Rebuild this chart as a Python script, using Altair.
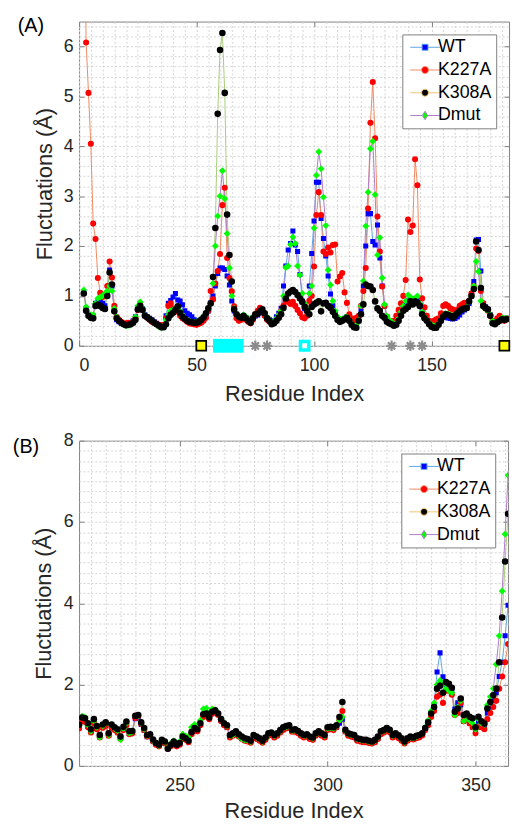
import altair as alt
import pandas as pd

SERIES = ["WT", "K227A", "K308A", "Dmut"]
LINE_PLOT = ["#5ea6e6", "#ef8a62", "#a8cc78", "#b07cc8"]
LINE_LEGEND = ["#5ea6e6", "#ef8a62", "#f2c46e", "#b07cc8"]
MARKER = ["#0000ff", "#ff0000", "#000000", "#00ff00"]

# ---------------- panel (A): residues 2..182 ----------------
RES_A = list(range(2, 183))
WT_A = [1.08, 0.75, 0.62, 0.58, 0.60, 0.85, 0.90, 0.88, 0.85, 0.80,
        1.05, 1.52, 1.20, 0.70, 0.52, 0.48, 0.45, 0.44, 0.43, 0.44,
        0.45, 0.50, 0.58, 0.76, 0.85, 0.74, 0.62, 0.58, 0.55, 0.52,
        0.48, 0.45, 0.42, 0.40, 0.42, 0.60, 0.85, 0.91, 0.98, 1.05,
        0.92, 0.90, 0.82, 0.70, 0.65, 0.62, 0.58, 0.52, 0.50, 0.50,
        0.52, 0.55, 0.60, 0.70, 0.85, 1.00, 1.20, 1.45, 1.56, 1.56,
        1.53, 1.40, 1.22, 0.90, 0.70, 0.60, 0.56, 0.55, 0.58, 0.55,
        0.52, 0.50, 0.55, 0.60, 0.62, 0.66, 0.70, 0.62, 0.55, 0.52,
        0.48, 0.50, 0.58, 0.65, 0.75, 1.20, 1.60, 1.92, 2.05, 2.30,
        2.02, 1.89, 1.43, 0.90, 0.75, 0.70, 1.20, 1.85, 2.50, 3.28,
        3.28, 2.55, 2.15, 1.80, 1.40, 1.04, 0.80, 0.65, 0.55, 0.50,
        0.52, 0.55, 0.58, 0.52, 0.45, 0.40, 0.42, 0.50, 0.70, 1.20,
        2.00, 2.65, 2.65, 2.09, 2.02, 2.42, 1.76, 1.20, 0.80, 0.58,
        0.50, 0.46, 0.43, 0.45, 0.55, 0.65, 0.75, 0.82, 0.90, 0.95,
        0.92, 0.95, 0.90, 0.82, 0.68, 0.58, 0.52, 0.46, 0.42, 0.40,
        0.40, 0.45, 0.52, 0.58, 0.58, 0.56, 0.55, 0.54, 0.55, 0.58,
        0.62, 0.68, 0.72, 0.75, 0.85, 1.00, 1.29, 2.12, 2.13, 1.50,
        0.85, 0.78, 0.72, 0.62, 0.50, 0.46, 0.48, 0.52, 0.55, 0.54,
        0.55]
K227A_A = [10.0, 6.08, 5.07, 4.05, 2.45, 2.14, 1.36, 1.06, 0.98, 1.00,
           1.20, 1.69, 1.37, 0.80, 0.58, 0.52, 0.48, 0.45, 0.45, 0.46,
           0.46, 0.48, 0.55, 0.72, 0.82, 0.72, 0.60, 0.56, 0.52, 0.48,
           0.46, 0.44, 0.42, 0.40, 0.42, 0.55, 0.80, 0.85, 0.75, 0.70,
           0.68, 0.60, 0.55, 0.52, 0.48, 0.45, 0.44, 0.43, 0.42, 0.44,
           0.46, 0.50, 0.56, 0.70, 1.10, 0.93, 1.25, 1.50, 1.84, 2.82,
           3.17, 1.76, 1.36, 1.09, 0.79, 0.55, 0.50, 0.52, 0.56, 0.52,
           0.48, 0.45, 0.52, 0.62, 0.70, 0.76, 0.69, 0.60, 0.52, 0.48,
           0.44, 0.46, 0.52, 0.60, 0.70, 0.80, 0.90, 0.88, 0.84, 0.88,
           0.80, 0.72, 0.65, 0.57, 0.55, 0.60, 0.90, 1.00, 1.59, 2.62,
           3.08, 2.62, 1.89, 1.84, 1.97, 1.87, 2.02, 2.03, 1.29, 1.39,
           1.46, 1.07, 0.86, 0.63, 0.55, 0.50, 0.56, 0.60, 0.80, 1.10,
           1.56, 2.75, 4.47, 5.29, 4.16, 2.59, 1.89, 1.19, 0.80, 0.58,
           0.50, 0.48, 0.50, 0.60, 0.72, 0.85, 1.00, 1.32, 2.53, 2.28,
           2.41, 3.74, 3.22, 1.33, 0.95, 0.77, 0.60, 0.50, 0.45, 0.50,
           0.53, 0.55, 0.65, 0.80, 0.83, 0.80, 0.75, 0.73, 0.70, 0.72,
           0.80, 0.83, 0.86, 0.80, 0.90, 1.05, 1.20, 1.95, 1.90, 1.10,
           0.85, 0.75, 0.70, 0.60, 0.50, 0.48, 0.55, 0.60, 0.55, 0.50,
           0.55]
K308A_A = [1.05, 0.70, 0.60, 0.56, 0.55, 0.80, 0.82, 0.80, 0.76, 0.74,
           1.00, 1.47, 1.23, 0.69, 0.55, 0.50, 0.46, 0.43, 0.41, 0.42,
           0.43, 0.46, 0.52, 0.73, 0.80, 0.72, 0.60, 0.57, 0.53, 0.50,
           0.46, 0.43, 0.40, 0.37, 0.37, 0.43, 0.55, 0.62, 0.66, 0.72,
           0.79, 0.66, 0.58, 0.54, 0.50, 0.48, 0.47, 0.46, 0.46, 0.48,
           0.52, 0.57, 0.65, 0.75, 0.85, 1.38, 2.36, 4.65, 5.93, 6.27,
           5.07, 2.63, 1.82, 1.29, 0.73, 0.63, 0.58, 0.56, 0.60, 0.55,
           0.50, 0.46, 0.55, 0.63, 0.64, 0.69, 0.73, 0.65, 0.55, 0.50,
           0.43, 0.45, 0.50, 0.56, 0.63, 0.76, 0.95, 1.05, 1.09, 1.12,
           1.08, 1.02, 0.95, 0.88, 0.78, 0.70, 0.63, 0.78, 0.83, 0.86,
           0.89, 0.69, 0.85, 0.86, 0.80, 0.76, 0.68, 0.60, 0.52, 0.48,
           0.50, 0.53, 0.56, 0.50, 0.42, 0.37, 0.36, 0.50, 0.63, 0.83,
           1.23, 1.20, 1.19, 1.12, 0.89, 0.75, 0.70, 0.60, 0.56, 0.48,
           0.45, 0.43, 0.40, 0.42, 0.50, 0.60, 0.70, 0.74, 0.78, 0.89,
           0.83, 0.89, 0.86, 0.80, 0.63, 0.55, 0.50, 0.43, 0.38, 0.36,
           0.36, 0.42, 0.50, 0.58, 0.63, 0.62, 0.60, 0.56, 0.60, 0.65,
           0.70, 0.73, 0.75, 0.76, 0.89, 1.00, 1.14, 2.09, 1.92, 1.16,
           0.80, 0.76, 0.73, 0.60, 0.45, 0.43, 0.47, 0.50, 0.53, 0.52,
           0.53]
DMUT_A = [1.12, 0.78, 0.65, 0.60, 0.62, 0.85, 0.95, 0.98, 1.00, 1.05,
          1.10, 1.20, 1.10, 0.75, 0.58, 0.50, 0.45, 0.42, 0.40, 0.41,
          0.42, 0.48, 0.58, 0.80, 0.88, 0.76, 0.62, 0.58, 0.54, 0.50,
          0.45, 0.42, 0.38, 0.36, 0.40, 0.52, 0.62, 0.70, 0.72, 0.75,
          0.78, 0.70, 0.62, 0.56, 0.52, 0.50, 0.48, 0.47, 0.48, 0.50,
          0.53, 0.58, 0.65, 0.75, 0.85, 1.25, 2.00, 2.60, 3.00, 3.51,
          2.95, 2.25, 1.56, 1.00, 0.75, 0.62, 0.60, 0.58, 0.62, 0.58,
          0.55, 0.52, 0.58, 0.62, 0.65, 0.68, 0.72, 0.64, 0.58, 0.52,
          0.48, 0.50, 0.55, 0.62, 0.70, 1.00, 1.57, 1.60, 2.03, 2.18,
          2.05, 1.60, 1.42, 1.05, 0.85, 0.75, 1.05, 1.20, 2.36, 3.42,
          3.89, 3.55, 2.98, 2.41, 1.52, 1.22, 0.90, 0.70, 0.58, 0.54,
          0.54, 0.56, 0.58, 0.52, 0.44, 0.40, 0.42, 0.52, 0.80, 1.30,
          2.40, 3.08, 3.95, 4.10, 3.03, 1.82, 2.17, 1.36, 0.83, 0.60,
          0.52, 0.48, 0.44, 0.46, 0.55, 0.68, 0.80, 0.90, 1.02, 0.98,
          0.90, 0.95, 1.00, 0.85, 0.68, 0.58, 0.52, 0.46, 0.42, 0.40,
          0.40, 0.45, 0.52, 0.60, 0.65, 0.64, 0.62, 0.60, 0.62, 0.66,
          0.70, 0.72, 0.75, 0.78, 0.88, 1.00, 1.20, 1.69, 1.49, 0.90,
          0.78, 0.74, 0.70, 0.62, 0.50, 0.46, 0.48, 0.52, 0.56, 0.54,
          0.55]

# markers drawn along the residue axis of panel (A)
YELLOW_BOX = [52, 181]
CYAN_BAR_START = [57]
CYAN_BAR_END = [70]
CYAN_BOX = [96]
GRAY_STAR = [75, 80, 133, 141, 146]

# ---------------- panel (B): residues 216..361 ----------------
RES_B = list(range(216, 362))
WT_B = [0.95, 1.12, 1.10, 0.98, 0.85, 1.08, 0.92, 0.72, 0.96, 1.00,
        0.75, 0.96, 0.90, 0.84, 0.68, 0.90, 1.02, 0.80, 0.82, 1.16,
        1.20, 1.02, 0.88, 0.72, 0.74, 0.62, 0.54, 0.50, 0.60, 0.56,
        0.44, 0.50, 0.56, 0.50, 0.54, 0.68, 0.66, 0.62, 0.80, 0.90,
        0.90, 1.05, 1.25, 1.30, 1.22, 1.32, 1.35, 1.27, 1.12, 1.02,
        0.95, 0.72, 0.76, 0.80, 0.74, 0.68, 0.64, 0.62, 0.60, 0.72,
        0.68, 0.64, 0.60, 0.66, 0.76, 0.78, 0.72, 0.76, 0.84, 0.90,
        0.93, 0.95, 0.85, 0.86, 0.82, 0.76, 0.72, 0.74, 0.68, 0.66,
        0.76, 0.80, 0.76, 0.72, 0.90, 0.92, 0.90, 0.95, 1.05, 1.15,
        0.85, 0.76, 0.74, 0.72, 0.65, 0.62, 0.60, 0.60, 0.58, 0.57,
        0.60, 0.68, 0.80, 0.84, 0.88, 0.85, 0.72, 0.76, 0.70, 0.64,
        0.58, 0.64, 0.68, 0.67, 0.70, 0.73, 0.78, 0.92, 1.10, 1.30,
        1.50, 2.31, 2.78, 2.19, 2.00, 1.95, 1.85, 1.40, 1.55, 1.50,
        1.10, 1.15, 1.05, 0.95, 0.90, 1.10, 1.00, 1.00, 1.30, 1.45,
        1.60, 1.80, 2.20, 2.55, 3.20, 3.95]
K227A_B = [0.92, 1.10, 1.08, 0.95, 0.82, 1.05, 0.90, 0.70, 0.94, 0.98,
           0.74, 0.94, 0.88, 0.82, 0.66, 0.88, 1.00, 0.78, 0.80, 1.18,
           1.22, 1.03, 0.88, 0.72, 0.74, 0.60, 0.52, 0.48, 0.58, 0.55,
           0.42, 0.48, 0.55, 0.48, 0.52, 0.66, 0.64, 0.58, 0.78, 0.86,
           0.85, 1.00, 1.20, 1.24, 1.15, 1.28, 1.32, 1.25, 1.10, 1.00,
           0.95, 0.70, 0.74, 0.78, 0.72, 0.66, 0.62, 0.60, 0.57, 0.70,
           0.66, 0.62, 0.57, 0.64, 0.74, 0.76, 0.70, 0.74, 0.82, 0.88,
           0.92, 0.94, 0.84, 0.84, 0.80, 0.74, 0.70, 0.72, 0.66, 0.64,
           0.74, 0.79, 0.74, 0.70, 0.88, 0.90, 0.88, 0.95, 1.12, 1.35,
           0.84, 0.74, 0.72, 0.70, 0.62, 0.60, 0.58, 0.58, 0.56, 0.55,
           0.58, 0.66, 0.78, 0.82, 0.86, 0.83, 0.70, 0.74, 0.68, 0.62,
           0.55, 0.62, 0.66, 0.65, 0.68, 0.70, 0.75, 0.88, 1.00, 1.20,
           1.35, 1.70, 1.75, 1.55, 1.85, 1.85, 1.75, 1.25, 1.30, 1.55,
           1.10, 1.15, 1.05, 0.95, 0.80, 0.95, 0.95, 0.90, 1.15, 1.30,
           1.45, 1.60, 1.90, 2.20, 2.55, 3.00]
K308A_B = [1.01, 1.19, 1.17, 1.05, 0.90, 1.15, 0.98, 0.76, 1.02, 1.07,
           0.80, 1.02, 0.95, 0.90, 0.72, 0.96, 1.09, 0.85, 0.86, 1.23,
           1.25, 1.07, 0.93, 0.76, 0.78, 0.65, 0.56, 0.52, 0.64, 0.60,
           0.42, 0.52, 0.60, 0.52, 0.56, 0.72, 0.68, 0.62, 0.83, 0.93,
           0.90, 1.05, 1.27, 1.29, 1.19, 1.33, 1.37, 1.29, 1.15, 1.05,
           1.00, 0.76, 0.80, 0.85, 0.78, 0.72, 0.68, 0.66, 0.62, 0.76,
           0.72, 0.68, 0.62, 0.70, 0.80, 0.82, 0.76, 0.80, 0.88, 0.95,
           0.98, 1.00, 0.89, 0.90, 0.86, 0.80, 0.76, 0.78, 0.72, 0.70,
           0.80, 0.85, 0.80, 0.76, 0.95, 0.96, 0.95, 1.00, 1.20, 1.57,
           0.89, 0.80, 0.78, 0.76, 0.68, 0.66, 0.64, 0.64, 0.62, 0.60,
           0.64, 0.72, 0.85, 0.88, 0.93, 0.89, 0.76, 0.80, 0.75, 0.68,
           0.60, 0.68, 0.72, 0.70, 0.74, 0.76, 0.80, 0.93, 1.07, 1.29,
           1.45, 1.90, 1.97, 1.80, 2.06, 2.02, 1.92, 1.33, 1.41, 1.66,
           1.25, 1.29, 1.21, 1.17, 0.95, 1.21, 1.10, 1.04, 1.41, 1.57,
           1.74, 1.90, 2.55, 3.65, 5.03, 6.20]
DMUT_B = [1.00, 1.22, 1.20, 1.00, 0.85, 1.10, 0.95, 0.70, 0.98, 1.05,
          0.76, 1.00, 0.92, 0.86, 0.65, 0.92, 1.05, 0.80, 0.84, 1.22,
          1.24, 1.05, 0.90, 0.74, 0.76, 0.62, 0.54, 0.50, 0.62, 0.58,
          0.45, 0.55, 0.62, 0.55, 0.60, 0.78, 0.74, 0.70, 0.95, 1.02,
          1.00, 1.12, 1.40, 1.42, 1.30, 1.40, 1.38, 1.30, 1.15, 1.05,
          0.98, 0.74, 0.76, 0.82, 0.74, 0.66, 0.64, 0.62, 0.60, 0.74,
          0.70, 0.66, 0.60, 0.68, 0.78, 0.80, 0.74, 0.78, 0.86, 0.93,
          0.96, 0.98, 0.87, 0.88, 0.84, 0.78, 0.74, 0.76, 0.70, 0.68,
          0.78, 0.83, 0.78, 0.74, 0.92, 0.94, 0.92, 0.98, 1.12, 1.20,
          0.86, 0.78, 0.76, 0.74, 0.66, 0.64, 0.62, 0.62, 0.60, 0.58,
          0.62, 0.70, 0.83, 0.86, 0.91, 0.87, 0.74, 0.78, 0.73, 0.66,
          0.58, 0.66, 0.70, 0.68, 0.72, 0.75, 0.80, 0.95, 1.12, 1.35,
          1.55, 2.00, 2.10, 2.00, 1.90, 1.85, 1.80, 1.25, 1.45, 1.60,
          1.10, 1.20, 1.12, 1.05, 0.90, 1.15, 1.05, 1.02, 1.50, 1.70,
          1.90, 2.50, 3.20, 4.30, 5.70, 7.15]

FONT = "Liberation Sans"
TXT = "#262626"
AX = "#808080"
GRID = "#d4d4d4"

STAR = "M-1,0L1,0M0,-1L0,1M-0.7,-0.7L0.7,0.7M-0.7,0.7L0.7,-0.7"
LEG_SHAPES = [
    "M-1,0L1.4,0M2.6,0L5,0M1.4,-0.6L2.6,-0.6L2.6,0.6L1.4,0.6Z",
    "M-1,0L1.3,0M2.7,0L5,0M1.3,0A0.7,0.7,0,1,0,2.7,0A0.7,0.7,0,1,0,1.3,0Z",
    "M-1,0L1.3,0M2.7,0L5,0M1.3,0A0.7,0.7,0,1,0,2.7,0A0.7,0.7,0,1,0,1.3,0Z",
    "M-1,0L1.45,0M2.55,0L5,0M2,-0.85L2.55,0L2,0.85L1.45,0Z",
]


def long_frame(res, cols):
    rows = []
    for name, vals in zip(SERIES, cols):
        for r, v in zip(res, vals):
            rows.append({"residue": r, "value": v, "series": name})
    return pd.DataFrame(rows)


def panel(df, W, H, xdom, ydom, xmaj, ymaj, xmin, ymin, tag, tag_dx, tag_dy,
          xtitle_pad, ytitle_pad, left_extent, annotate=False):
    xs = alt.Scale(domain=xdom, nice=False, zero=False)
    ys = alt.Scale(domain=ydom, nice=False, zero=False)
    off = dict(labels=False, domain=False, title=None)
    zero_ext = dict(minExtent=0, maxExtent=0)
    grid_x = alt.Axis(orient="bottom", values=xmin, grid=True, gridColor=GRID,
                      gridDash=[2, 2], gridWidth=1, ticks=False, tickSize=0, **off, **zero_ext)
    # the minor-grid y axis also reserves the left margin of the panel
    grid_y = alt.Axis(orient="left", values=ymin, grid=True, gridColor=GRID,
                      gridDash=[2, 2], gridWidth=1, ticks=False, tickSize=0, **off,
                      minExtent=left_extent, maxExtent=left_extent)
    main_x = alt.Axis(orient="bottom", values=xmaj, grid=False, ticks=False, tickSize=0,
                      domain=False, labelFont=FONT, labelFontSize=18, labelColor=TXT,
                      labelPadding=11, title="Residue Index", titleFont=FONT,
                      titleFontSize=22, titleFontWeight="normal", titleColor=TXT,
                      titlePadding=xtitle_pad)
    main_y = alt.Axis(orient="left", values=ymaj, grid=False, ticks=False, tickSize=0,
                      domain=False, labelFont=FONT, labelFontSize=18, labelColor=TXT,
                      labelPadding=6, title="Fluctuations (Å)", titleFont=FONT,
                      titleFontSize=22, titleFontWeight="normal", titleColor=TXT,
                      titlePadding=ytitle_pad)
    tick = dict(grid=False, ticks=True, tickSize=5, tickColor=AX, tickWidth=1, **off, **zero_ext)
    in_bottom = alt.Axis(orient="top", offset=-H, values=xmaj, **tick)
    in_top = alt.Axis(orient="bottom", offset=-H, values=xmaj, **tick)
    in_left = alt.Axis(orient="right", offset=-W, values=ymaj, **tick)
    in_right = alt.Axis(orient="left", offset=-W, values=ymaj, **tick)

    base = alt.Chart(df)

    def X(ax):
        return alt.X("residue:Q", scale=xs, axis=ax)

    def Y(ax):
        return alt.Y("value:Q", scale=ys, axis=ax)

    lines = base.mark_line(strokeWidth=1, clip=True).encode(
        x=X(grid_x), y=Y(grid_y),
        stroke=alt.Stroke("series:N", scale=alt.Scale(domain=SERIES, range=LINE_PLOT), legend=None),
        order="residue:Q",
    )

    def pts(name, shape, size, xa, ya):
        i = SERIES.index(name)
        return base.transform_filter(alt.datum.series == name).mark_point(
            shape=shape, size=size, filled=True, fill=MARKER[i], strokeWidth=0,
            opacity=1, clip=True,
        ).encode(x=X(xa), y=Y(ya))

    p_wt = pts("WT", "square", 26, main_x, main_y)
    p_k227 = pts("K227A", "circle", 38, in_bottom, in_left)
    p_dmut = pts("Dmut", "diamond", 48, in_top, in_right)
    p_k308 = pts("K308A", "circle", 44, None, None)

    leg = alt.Legend(title=None, orient="top-right", offset=13, labelFont=FONT,
                     labelFontSize=18, labelColor="black", symbolSize=100,
                     symbolStrokeWidth=1, symbolOpacity=1, labelOffset=14, padding=4,
                     rowPadding=5, strokeColor=AX, fillColor="white", cornerRadius=0)
    legend_layer = base.transform_filter("false").mark_point(filled=True, size=100).encode(
        x=X(None), y=Y(None),
        fill=alt.Fill("series:N", scale=alt.Scale(domain=SERIES, range=MARKER), legend=leg),
        stroke=alt.Stroke("series:N", scale=alt.Scale(domain=SERIES, range=LINE_LEGEND), legend=leg),
        shape=alt.Shape("series:N", scale=alt.Scale(domain=SERIES, range=LEG_SHAPES), legend=leg),
    )

    layers = [lines, p_wt, p_k227, p_dmut, p_k308, legend_layer]

    if annotate:
        bar_df = pd.DataFrame({"start": CYAN_BAR_START, "end": CYAN_BAR_END,
                               "base": [0] * len(CYAN_BAR_START)})
        bar = alt.Chart(bar_df).mark_rule(strokeWidth=14, color="#00ffff", strokeCap="butt").encode(
            x=alt.X("start:Q", scale=xs, axis=None), x2="end:Q",
            y=alt.Y("base:Q", scale=ys, axis=None))
        ydf = pd.DataFrame({"residue": YELLOW_BOX, "base": [0] * len(YELLOW_BOX)})
        ybox = alt.Chart(ydf).mark_point(shape="square", size=100, filled=True, fill="#ffff00",
                                         stroke="#000000", strokeWidth=1.8, opacity=1).encode(
            x=alt.X("residue:Q", scale=xs, axis=None), y=alt.Y("base:Q", scale=ys, axis=None))
        cdf = pd.DataFrame({"residue": CYAN_BOX, "base": [0] * len(CYAN_BOX)})
        cbox = alt.Chart(cdf).mark_point(shape="square", size=72, filled=True, fill="#ffffff",
                                         stroke="#00ffff", strokeWidth=3.5, opacity=1).encode(
            x=alt.X("residue:Q", scale=xs, axis=None), y=alt.Y("base:Q", scale=ys, axis=None))
        sdf = pd.DataFrame({"residue": GRAY_STAR, "base": [0] * len(GRAY_STAR)})
        stars = alt.Chart(sdf).mark_point(shape=STAR, size=110, filled=False, stroke="#8c8c8c",
                                          strokeWidth=2.2, opacity=1).encode(
            x=alt.X("residue:Q", scale=xs, axis=None), y=alt.Y("base:Q", scale=ys, axis=None))
        layers += [bar, ybox, cbox, stars]

    return alt.layer(*layers).resolve_scale(
        stroke="independent", fill="independent", shape="independent"
    ).resolve_axis(x="independent", y="independent").properties(
        width=W, height=H,
        title=alt.TitleParams(tag, anchor="start", frame="group", orient="top", baseline="top",
                              offset=0, dx=tag_dx, dy=tag_dy, fontSize=20, font=FONT,
                              fontWeight="normal", color="black"),
    )


dfA = long_frame(RES_A, [WT_A, K227A_A, K308A_A, DMUT_A])
dfB = long_frame(RES_B, [WT_B, K227A_B, K308A_B, DMUT_B])

chartA = panel(dfA, 435, 328, [0, 183], [0, 6.5], [0, 50, 100, 150], list(range(0, 7)),
               list(range(0, 184, 5)), [round(i * 0.2, 1) for i in range(33)],
               "(A)", -62, 15, 9, 7, 50, annotate=True)
chartB = panel(dfB, 434, 329, [216, 361], [0, 8], [250, 300, 350], [0, 2, 4, 6, 8],
               list(range(220, 361, 5)), [i * 0.25 for i in range(33)],
               "(B)", -67, 25, 6, 8, 55)

chart = alt.concat(chartA, chartB, columns=1, spacing=26, align="none", bounds="full").resolve_scale(
    x="independent", y="independent", stroke="independent", fill="independent", shape="independent"
).properties(
    padding={"left": 12, "top": 11, "right": 0, "bottom": 0}
).configure_view(stroke=AX, strokeWidth=1)

chart.save("out.html", embed_options={"renderer": "svg", "actions": False})
